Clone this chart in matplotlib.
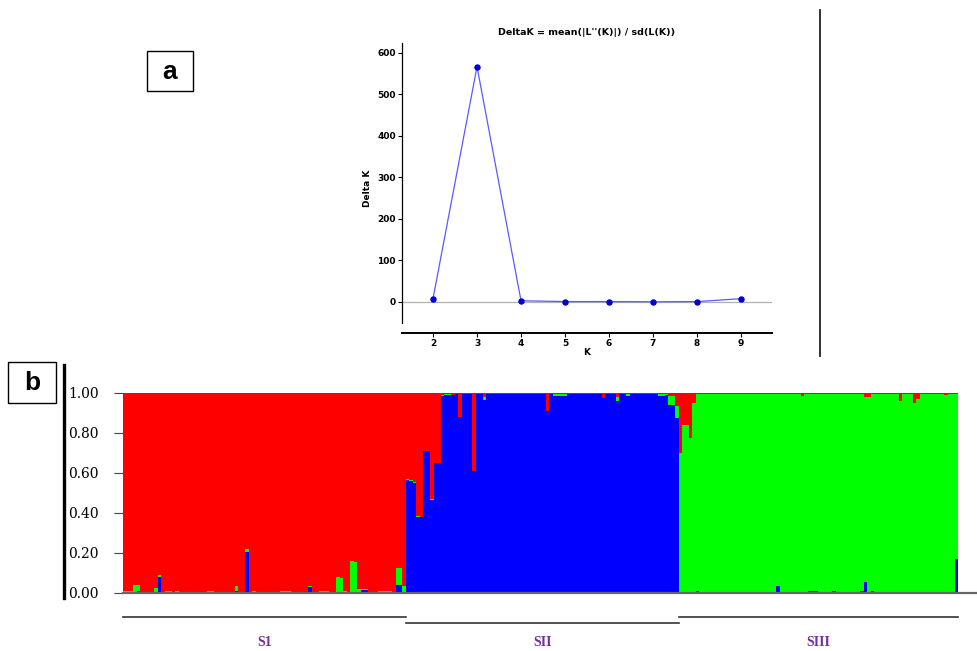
import matplotlib
matplotlib.use("Agg")
import matplotlib.pyplot as plt
from matplotlib.lines import Line2D
from matplotlib.patches import Rectangle
import numpy as np

# ---------------- data: panel a (Evanno DeltaK) ----------------
k_values = [2, 3, 4, 5, 6, 7, 8, 9]
delta_k = [8, 567, 3, 1, 1, 0.5, 1, 8]
delta_yticks = [0, 100, 200, 300, 400, 500, 600]

# ---------------- data: panel b (STRUCTURE Q, K=3) ----------------
# membership to the blue and green clusters; red is the remainder
s1_blue = [0, 0, 0, 0, 0.01, 0, 0, 0, 0, 0,
           0.08, 0, 0, 0, 0, 0, 0, 0, 0, 0,
           0, 0, 0, 0, 0, 0, 0, 0, 0, 0,
           0, 0, 0.01, 0, 0, 0.205, 0, 0, 0, 0,
           0, 0, 0, 0, 0, 0, 0, 0, 0, 0,
           0, 0, 0, 0.03, 0, 0, 0, 0, 0, 0,
           0, 0, 0, 0, 0, 0, 0, 0, 0.015, 0.015,
           0, 0, 0, 0, 0, 0, 0, 0, 0.04, 0.04,
           0]
s1_green = [0.01, 0.01, 0.01, 0.04, 0.03, 0, 0, 0.005, 0, 0.025,
            0.01, 0, 0.01, 0.01, 0, 0.01, 0, 0, 0, 0,
            0, 0, 0, 0, 0.01, 0.01, 0, 0, 0, 0,
            0, 0, 0.025, 0, 0, 0.015, 0, 0.01, 0, 0,
            0, 0, 0, 0, 0, 0.01, 0.01, 0.01, 0, 0,
            0, 0, 0, 0.005, 0, 0, 0.01, 0.01, 0.01, 0,
            0, 0.08, 0.075, 0.01, 0, 0.16, 0.155, 0.02, 0.005, 0.005,
            0, 0, 0, 0.01, 0.01, 0.01, 0.01, 0, 0.085, 0.085,
            0.035]

s2_blue = [0.565, 0.56, 0.55, 0.38, 0.38, 0.71, 0.71, 0.465, 0.65, 0.65,
           0.985, 0.99, 0.99, 0.99, 0.995, 0.88, 0.995, 0.995, 0.995, 0.61,
           0.995, 0.995, 0.965, 0.995, 0.995, 0.995, 0.995, 0.995, 0.995, 0.995,
           0.995, 0.995, 0.995, 0.995, 0.995, 0.995, 0.995, 0.995, 0.995, 0.995,
           0.91, 0.995, 0.985, 0.985, 0.985, 0.985, 0.995, 0.995, 0.995, 0.995,
           0.995, 0.995, 0.995, 0.995, 0.995, 0.995, 0.975, 0.995, 0.995, 0.995,
           0.96, 0.995, 0.995, 0.985, 0.995, 0.995, 0.995, 0.995, 0.995, 0.995,
           0.995, 0.995, 0.985, 0.985, 0.99, 0.94, 0.94, 0.875]
s2_green = [0.005, 0.005, 0.005, 0.005, 0, 0, 0, 0.005, 0, 0,
            0.005, 0.005, 0.005, 0, 0, 0, 0, 0, 0, 0,
            0, 0, 0.015, 0, 0, 0, 0, 0, 0, 0,
            0, 0, 0, 0, 0, 0, 0, 0, 0, 0,
            0, 0, 0.01, 0.01, 0.01, 0.01, 0, 0, 0, 0,
            0, 0, 0, 0, 0, 0, 0, 0, 0, 0,
            0.02, 0, 0, 0.01, 0, 0, 0, 0, 0, 0,
            0, 0, 0.008, 0.008, 0.005, 0.045, 0.045, 0.06]

s3_blue = [0, 0, 0, 0, 0, 0.01, 0, 0, 0, 0,
           0, 0, 0, 0, 0, 0, 0, 0, 0, 0,
           0, 0, 0, 0.005, 0, 0, 0, 0, 0.037, 0,
           0, 0, 0, 0, 0, 0, 0, 0.01, 0.01, 0.01,
           0, 0, 0, 0, 0.01, 0, 0, 0, 0, 0,
           0, 0, 0.01, 0.055, 0, 0.01, 0, 0, 0, 0,
           0, 0, 0, 0, 0, 0, 0, 0, 0, 0,
           0, 0, 0, 0, 0, 0, 0, 0, 0, 0.17]
s3_green = [0.70, 0.84, 0.84, 0.775, 0.95, 0.985, 0.995, 0.995, 0.995, 0.995,
            0.995, 0.995, 0.995, 0.995, 0.995, 0.995, 0.995, 0.995, 0.995, 0.995,
            0.995, 0.995, 0.995, 0.99, 0.995, 0.995, 0.995, 0.995, 0.958, 0.995,
            0.995, 0.995, 0.995, 0.995, 0.995, 0.985, 0.995, 0.985, 0.985, 0.985,
            0.995, 0.995, 0.995, 0.995, 0.985, 0.995, 0.995, 0.995, 0.995, 0.995,
            0.995, 0.995, 0.985, 0.925, 0.98, 0.985, 0.995, 0.995, 0.995, 0.995,
            0.995, 0.995, 0.995, 0.96, 0.995, 0.995, 0.995, 0.95, 0.97, 0.995,
            0.995, 0.995, 0.995, 0.995, 0.995, 0.995, 0.99, 0.995, 0.995, 0.825]

group_names = ["S1", "SII", "SIII"]
q_yticks = [0.0, 0.2, 0.4, 0.6, 0.8, 1.0]
q_yticklabels = ["0.00", "0.20", "0.40", "0.60", "0.80", "1.00"]

# ---------------- figure ----------------
W, H = 978, 651
fig = plt.figure(figsize=(W / 100, H / 100), dpi=100)
fig.patch.set_facecolor("white")


def px_axes(left, top, right, bottom):
    return fig.add_axes([left / W, 1 - bottom / H, (right - left) / W, (bottom - top) / H])


def fx(x):
    return x / W


def fy(y):
    return 1 - y / H


# ---------------- panel a ----------------
axa = px_axes(402, 43, 772, 333)
axa.plot(k_values, delta_k, color="#5a5aff", lw=0.9, zorder=3)
axa.plot(k_values, delta_k, "o", color="#0000d0", ms=3.6, zorder=4)
axa.axhline(0, color="#b0b0b0", lw=0.9, zorder=1)
axa.set_xlim(1.295, 9.705)
axa.set_ylim(-74.7, 624)
axa.set_xticks(k_values)
axa.set_yticks(delta_yticks)
for s in ["top", "right"]:
    axa.spines[s].set_visible(False)
axa.spines["left"].set_bounds(-50, 624)
axa.spines["left"].set_linewidth(0.9)
axa.spines["bottom"].set_linewidth(1.4)
axa.tick_params(axis="both", labelsize=6.5, length=3, width=0.8, pad=1.5)
for lab in axa.get_xticklabels() + axa.get_yticklabels():
    lab.set_fontweight("bold")
axa.set_title("DeltaK = mean(|L''(K)|) / sd(L(K))", fontsize=6.8,
              fontweight="bold", pad=6)
axa.set_xlabel("K", fontsize=6.5, fontweight="bold", labelpad=0)
axa.set_ylabel("Delta K", fontsize=6.5, fontweight="bold", labelpad=4)

# vertical separator line at right of panel a
fig.add_artist(Line2D([fx(820), fx(820)], [fy(10), fy(356)], color="#222222",
                      lw=1.3, transform=fig.transFigure))

# ---------------- panel b ----------------
blue = np.array(s1_blue + s2_blue + s3_blue)
green = np.array(s1_green + s2_green + s3_green)
red = 1 - blue - green
n = len(blue)
x = np.arange(n)

axb = px_axes(123, 393, 978, 593)
common = dict(width=1.0, linewidth=0, antialiased=False)
axb.bar(x, blue, color="#0000ff", **common)
axb.bar(x, green, bottom=blue, color="#00ff00", **common)
axb.bar(x, red, bottom=blue + green, color="#ff0000", **common)
bar_px = (958 - 123) / n
axb.set_xlim(-0.5, -0.5 + (978 - 123) / bar_px)
axb.set_ylim(0, 1)
for s in ["top", "right", "left"]:
    axb.spines[s].set_visible(False)
axb.spines["bottom"].set_color("#666666")
axb.spines["bottom"].set_linewidth(1.6)
axb.set_xticks([])
axb.set_yticks(q_yticks)
axb.set_yticklabels(q_yticklabels, fontfamily="DejaVu Serif", fontsize=10)
axb.tick_params(axis="y", length=6.5, width=0.8, color="#444444", pad=11)

# thick vertical rule left of the y labels
fig.add_artist(Line2D([fx(63.5), fx(63.5)], [fy(365), fy(598)], color="black",
                      lw=2.4, transform=fig.transFigure))

# group brackets and labels
group_sizes = [len(s1_blue), len(s2_blue), len(s3_blue)]
group_line_y = [617, 623, 617]
start = 0
for name, size, ly in zip(group_names, group_sizes, group_line_y):
    x0 = 123 + start * bar_px
    x1 = 123 + (start + size) * bar_px
    fig.add_artist(Line2D([fx(x0), fx(x1)], [fy(ly), fy(ly)], color="#333333",
                          lw=1.2, transform=fig.transFigure))
    fig.text(fx((x0 + x1) / 2), fy(643), name, ha="center", va="center",
             fontsize=10, fontweight="bold", color="#7030a0",
             fontfamily="Liberation Serif")
    start += size

# panel letters in boxes
for letter, (bx0, by0, bx1, by1) in [("a", (147, 51, 193, 91)), ("b", (8, 362, 56, 403))]:
    fig.add_artist(Rectangle((fx(bx0), fy(by1)), (bx1 - bx0) / W, (by1 - by0) / H,
                             transform=fig.transFigure, fill=False,
                             edgecolor="black", lw=1.0))
    fig.text(fx((bx0 + bx1) / 2), fy((by0 + by1) / 2 + 1), letter, ha="center",
             va="center", fontsize=19, fontweight="bold",
             fontfamily="Liberation Sans")

fig.savefig("out.png", dpi=100)
